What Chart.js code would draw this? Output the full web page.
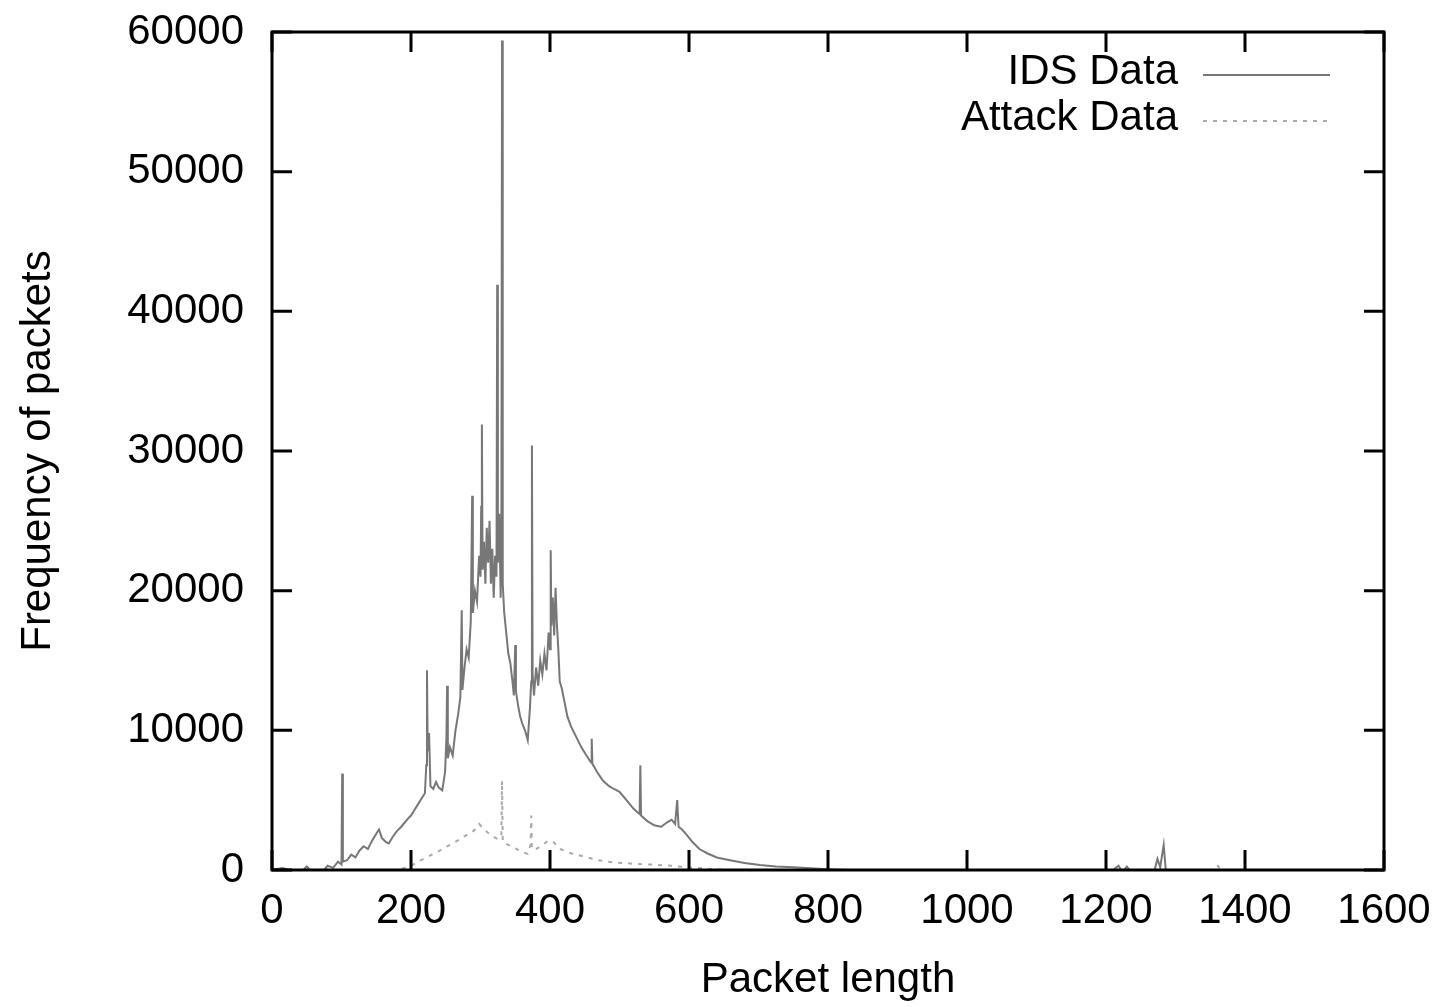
<!DOCTYPE html>
<html>
<head>
<meta charset="utf-8">
<script src="https://cdn.jsdelivr.net/npm/chart.js@4"></script>
<style>
  html, body { margin: 0; padding: 0; background: #fff; }
  canvas { display: block; }
</style>
</head>
<body>
<canvas id="packetChart" width="1441" height="1007"></canvas>
<script>
// packet length histogram
const idsLen = [0, 15, 25, 45, 50, 55, 75, 80, 88, 95, 100, 101, 102, 108, 114, 120, 126, 132, 138, 144,
  150, 154, 158, 164, 168, 174, 180, 186, 191, 196, 200, 205, 210, 215, 220, 222, 223, 224, 226, 228,
  232, 236, 240, 245, 249, 251, 252, 253, 256, 260, 264, 268, 271, 273, 274, 277, 280, 283, 286, 288,
  289, 292, 295, 298, 300, 301, 302, 303, 305, 307, 309, 311, 313, 315, 317, 319, 321, 323, 324, 325,
  327, 329, 330, 331, 332, 334, 337, 340, 343, 346, 348, 350, 351, 354, 357, 360, 364, 368, 371, 373,
  374, 375, 377, 380, 383, 386, 389, 392, 395, 398, 400, 401, 402, 404, 406, 408, 410, 412, 414, 417,
  421, 425, 430, 435, 440, 445, 450, 455, 459, 460, 461, 468, 476, 485, 492, 500, 510, 520, 529, 530,
  531, 540, 550, 560, 568, 575, 580, 583, 585, 590, 597, 605, 615, 626, 640, 659, 680, 702, 725, 750,
  775, 800, 830, 1210, 1218, 1222, 1226, 1230, 1234, 1270, 1274, 1278, 1283, 1286, 1500];
const idsFreq = [0, 150, 0, 0, 250, 0, 0, 300, 150, 600, 400, 6900, 600, 700, 1100, 900, 1400, 1700, 1500, 2100,
  2600, 2900, 2300, 2000, 1900, 2400, 2800, 3100, 3400, 3700, 3900, 4300, 4700, 5100, 5500, 7500, 14300, 8500, 9800, 6000,
  5800, 6300, 5900, 5700, 7000, 9500, 13200, 8000, 8800, 8200, 10000, 11200, 12400, 18600, 12900, 14500, 15800, 15200, 17800, 26800,
  18400, 20000, 19200, 22500, 21000, 26000, 31900, 21500, 23500, 20500, 24500, 22000, 25000, 20500, 23000, 19500, 22500, 21000, 41900, 22000,
  25500, 19500, 23000, 59400, 20500, 18500, 17000, 15500, 14800, 13500, 12500, 16100, 12800, 11800, 11000, 10500, 10000, 9300, 11500, 13500,
  30400, 14000, 12500, 14500, 13200, 15000, 14000, 15500, 14300, 17000, 15800, 22900, 17500, 19500, 16800, 20200, 17500, 15800, 13500, 13000,
  12000, 11000, 10300, 9800, 9300, 8800, 8400, 8000, 7700, 9400, 7600, 7000, 6400, 6000, 5800, 5600, 5000, 4400, 4000, 7500,
  3900, 3500, 3200, 3100, 3400, 3600, 3300, 5000, 3100, 2900, 2500, 2000, 1500, 1200, 900, 700, 500, 350, 250, 200,
  120, 60, 0, 0, 300, 0, 0, 250, 0, 0, 800, 200, 1800, 0, 0];

const attackLen = [0, 180, 190, 200, 210, 220, 230, 240, 250, 260, 270, 280, 290, 298, 305, 315, 325, 330, 331, 332,
  340, 350, 360, 368, 372, 373, 374, 380, 390, 397, 405, 415, 430, 450, 470, 490, 520, 550, 575, 600,
  630, 660, 1350, 1361, 1365, 1500];
const attackFreq = [0, 0, 150, 300, 600, 850, 1100, 1350, 1650, 1900, 2200, 2500, 2800, 3300, 2900, 2500, 2200, 2500, 6400, 2000,
  1800, 1550, 1300, 1150, 1800, 3900, 1500, 1500, 1800, 2100, 2000, 1500, 1200, 950, 700, 550, 450, 380, 300, 180,
  80, 0, 0, 300, 0, 0];

const xTicks = [0, 200, 400, 600, 800, 1000, 1200, 1400, 1600];
const yTicks = [0, 10000, 20000, 30000, 40000, 50000, 60000];

const toPoints = (xs, ys) => xs.map((x, i) => ({ x: x, y: ys[i] }));

const FONT = "'Liberation Sans', Arial, sans-serif";

// gnuplot style box: frame, inward ticks on all sides, legend in top right
const framePlugin = {
    id: 'frame',
    afterDraw(chart) {
        const { ctx, chartArea: a, scales } = chart;
        ctx.save();
        ctx.strokeStyle = '#000';
        ctx.lineWidth = 3;
        ctx.strokeRect(a.left, a.top, a.right - a.left, a.bottom - a.top);

        const len = 20;
        ctx.beginPath();
        yTicks.forEach(v => {
            const y = scales.y.getPixelForValue(v);
            ctx.moveTo(a.left, y); ctx.lineTo(a.left + len, y);
            ctx.moveTo(a.right, y); ctx.lineTo(a.right - len, y);
        });
        xTicks.forEach(v => {
            const x = scales.x.getPixelForValue(v);
            ctx.moveTo(x, a.bottom); ctx.lineTo(x, a.bottom - len);
            ctx.moveTo(x, a.top); ctx.lineTo(x, a.top + len);
        });
        ctx.stroke();

        // legend
        ctx.font = '42px ' + FONT;
        ctx.fillStyle = '#000';
        ctx.textAlign = 'right';
        ctx.textBaseline = 'middle';
        chart.data.datasets.forEach((ds, i) => {
            const y = a.top + 40 + i * 46;
            ctx.fillText(ds.label, 1178, y);
            ctx.save();
            ctx.strokeStyle = ds.borderColor;
            ctx.lineWidth = ds.borderWidth;
            ctx.setLineDash(ds.borderDash || []);
            ctx.beginPath();
            ctx.moveTo(1203, y + 3);
            ctx.lineTo(1330, y + 3);
            ctx.stroke();
            ctx.restore();
        });
        ctx.restore();
    }
};

new Chart(document.getElementById('packetChart').getContext('2d'), {
    type: 'line',
    data: {
        datasets: [{
            label: 'IDS Data',
            data: toPoints(idsLen, idsFreq),
            borderColor: '#777',
            borderWidth: 2,
            pointRadius: 0,
            tension: 0
        }, {
            label: 'Attack Data',
            data: toPoints(attackLen, attackFreq),
            borderColor: '#aaa',
            borderWidth: 2,
            borderDash: [4, 6],
            pointRadius: 0,
            tension: 0
        }]
    },
    options: {
        responsive: false,
        animation: false,
        layout: { padding: { top: 32, right: 57, bottom: 0, left: 0 } },
        plugins: {
            legend: { display: false },
            tooltip: { enabled: false }
        },
        scales: {
            x: {
                type: 'linear',
                min: 0,
                max: 1600,
                afterFit: s => { s.height = 137; s.paddingLeft = 0; s.paddingRight = 0; },
                afterBuildTicks: s => { s.ticks = xTicks.map(v => ({ value: v })); },
                grid: { display: false, drawTicks: false },
                border: { display: false },
                ticks: {
                    color: '#000', padding: 16, maxRotation: 0,
                    font: { family: FONT, size: 42 },
                    callback: v => String(v)
                },
                title: {
                    display: true,
                    text: 'Packet length',
                    color: '#000',
                    padding: { top: 0, bottom: 1 },
                    font: { family: FONT, size: 42 }
                }
            },
            y: {
                min: 0,
                max: 60000,
                afterFit: s => { s.width = 272; s.paddingTop = 0; s.paddingBottom = 0; },
                afterBuildTicks: s => { s.ticks = yTicks.map(v => ({ value: v })); },
                grid: { display: false, drawTicks: false },
                border: { display: false },
                ticks: {
                    color: '#000', padding: 28,
                    font: { family: FONT, size: 42 },
                    callback: v => String(v)
                },
                title: {
                    display: true,
                    text: 'Frequency of packets',
                    color: '#000',
                    padding: { top: 13, bottom: 0 },
                    font: { family: FONT, size: 42 }
                }
            }
        }
    },
    plugins: [framePlugin]
});
</script>
</body>
</html>
